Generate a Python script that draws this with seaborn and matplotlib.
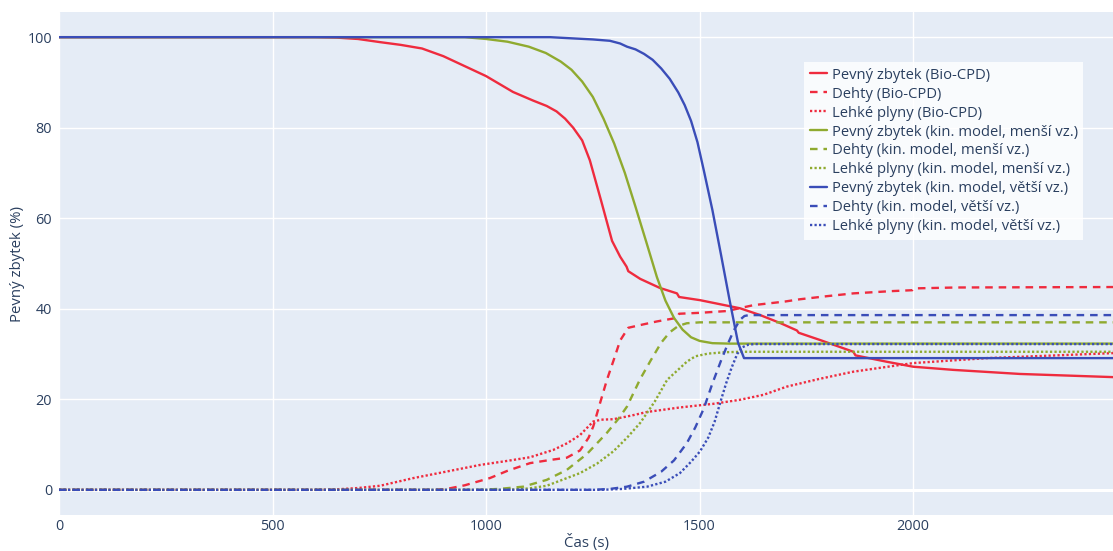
import matplotlib
matplotlib.use("Agg")
import matplotlib.pyplot as plt
import seaborn as sns
import pandas as pd

# ---- data ----
red_solid_t = [0, 600, 650, 700, 752, 800, 850, 900, 950, 1000, 1063, 1110, 1142, 1165, 1185, 1204, 1225,
               1243, 1269, 1295, 1314, 1329, 1333, 1361, 1407, 1447, 1452, 1501, 1548, 1595, 1642, 1690,
               1728, 1732, 1782, 1860, 1865, 1938, 2000, 2094, 2250, 2468]
red_solid_v = [100, 100, 99.9, 99.6, 98.9, 98.3, 97.5, 95.8, 93.6, 91.4, 87.9, 86.0, 84.8, 83.6, 82.0, 80.0, 77.2,
               72.8, 64.0, 55.0, 51.5, 49.3, 48.3, 46.6, 44.6, 43.4, 42.6, 41.9, 41.0, 40.1, 38.6, 36.8,
               35.2, 34.7, 33.1, 30.5, 29.7, 28.3, 27.2, 26.5, 25.6, 24.9]

red_dash_t = [0, 880, 908, 950, 1009, 1050, 1103, 1150, 1189, 1220, 1240, 1251, 1267, 1283, 1300, 1314, 1333,
              1361, 1400, 1447, 1452, 1500, 1564, 1626, 1700, 1735, 1800, 1860, 1950, 1998, 2002, 2100, 2468]
red_dash_v = [0, 0, 0.2, 1.0, 2.6, 4.2, 5.9, 6.6, 7.1, 8.7, 11.5, 14.0, 19.2, 24.3, 29.0, 33.0, 35.8,
              36.4, 37.2, 38.0, 38.9, 39.1, 39.5, 40.8, 41.6, 42.1, 42.8, 43.4, 43.9, 44.1, 44.5, 44.7, 44.8]

red_dot_t = [0, 600, 650, 700, 752, 830, 900, 986, 1050, 1103, 1157, 1190, 1220, 1251, 1270, 1298, 1340,
             1377, 1454, 1532, 1595, 1650, 1704, 1780, 1860, 2000, 2173, 2468]
red_dot_v = [0, 0, 0.1, 0.4, 0.9, 2.6, 3.9, 5.5, 6.4, 7.2, 8.8, 10.3, 12.1, 15.1, 15.5, 15.6, 16.4,
             17.2, 18.2, 19.0, 19.9, 21.0, 22.8, 24.5, 26.1, 28.0, 29.1, 30.2]

green_solid_t = [0, 950, 1000, 1050, 1100, 1140, 1175, 1200, 1225, 1250, 1275, 1300, 1325, 1350, 1375, 1400,
                 1420, 1440, 1460, 1480, 1500, 1530, 1570, 2468]
green_solid_v = [100, 100, 99.6, 99.0, 97.9, 96.5, 94.6, 92.8, 90.2, 86.8, 82.0, 76.5, 70.0, 62.5, 54.8, 47.0,
                 41.8, 38.0, 35.4, 33.7, 32.9, 32.4, 32.3, 32.3]

green_dash_t = [0, 980, 1030, 1087, 1142, 1189, 1236, 1283, 1310, 1330, 1361, 1385, 1410, 1430, 1450, 1470,
                1500, 2468]
green_dash_v = [0, 0, 0.2, 0.7, 2.2, 4.4, 7.9, 12.6, 15.7, 18.4, 24.5, 28.5, 32.5, 34.8, 36.2, 36.8,
                37.0, 37.0]

green_dot_t = [0, 1050, 1100, 1142, 1220, 1260, 1298, 1330, 1361, 1395, 1424, 1454, 1470, 1490, 1520, 1560,
               1600, 2468]
green_dot_v = [0, 0, 0.3, 0.9, 3.7, 5.8, 8.5, 11.5, 14.8, 19.5, 24.3, 26.9, 28.3, 29.5, 30.1, 30.4,
               30.5, 30.5]

blue_solid_t = [0, 1150, 1189, 1250, 1290, 1314, 1330, 1350, 1370, 1390, 1410, 1430, 1450, 1465, 1480, 1495,
                1510, 1530, 1550, 1570, 1590, 1604, 2468]
blue_solid_v = [100, 100, 99.8, 99.5, 99.2, 98.6, 97.9, 97.3, 96.3, 95.0, 93.1, 90.8, 87.8, 85.0, 81.5, 76.8,
                70.5, 61.8, 52.0, 42.0, 32.5, 29.1, 29.1]

blue_dash_t = [0, 1250, 1290, 1330, 1370, 1410, 1440, 1470, 1490, 1510, 1530, 1550, 1565, 1580, 1595, 1605,
               1615, 2468]
blue_dash_v = [0, 0, 0.2, 0.7, 1.8, 4.0, 6.5, 10.3, 13.8, 18.0, 23.5, 28.5, 32.0, 35.2, 37.6, 38.4,
               38.6, 38.6]

blue_dot_t = [0, 1270, 1320, 1377, 1420, 1454, 1480, 1501, 1520, 1535, 1550, 1562, 1575, 1588, 1600, 1615,
              1630, 2468]
blue_dot_v = [0, 0, 0.2, 0.7, 1.8, 3.7, 6.2, 8.5, 11.5, 15.0, 19.8, 23.5, 27.0, 30.0, 31.5, 32.1,
              32.2, 32.2]

labels = ["Pevný zbytek (Bio-CPD)", "Dehty (Bio-CPD)", "Lehké plyny (Bio-CPD)",
          "Pevný zbytek (kin. model, menší vz.)", "Dehty (kin. model, menší vz.)",
          "Lehké plyny (kin. model, menší vz.)",
          "Pevný zbytek (kin. model, větší vz.)", "Dehty (kin. model, větší vz.)",
          "Lehké plyny (kin. model, větší vz.)"]

x_ticks = [0, 500, 1000, 1500, 2000]
y_ticks = [0, 20, 40, 60, 80, 100]

# ---- style ----
RED, GREEN, BLUE = "#EF2B3E", "#8FAA2F", "#3A4DB8"
TXT = "#2a3f5f"
sns.set_theme(style="darkgrid", rc={"axes.facecolor": "#E5ECF6", "grid.color": "white",
                                    "grid.linewidth": 1.0, "axes.edgecolor": "none"})
plt.rcParams["font.family"] = ["Open Sans", "DejaVu Sans"]

fig = plt.figure(figsize=(11.13, 5.51), dpi=100)
ax = fig.add_axes([59 / 1113, 1 - 515 / 551, 1 - 59 / 1113, (515 - 12) / 551])

LW = 1.7
solid = "-"
dash = (0, (3.2, 2.5))
dot = (0, (0.95, 0.95))

series = [
    (red_solid_t, red_solid_v, RED, solid),
    (red_dash_t, red_dash_v, RED, dash),
    (red_dot_t, red_dot_v, RED, dot),
    (green_solid_t, green_solid_v, GREEN, solid),
    (green_dash_t, green_dash_v, GREEN, dash),
    (green_dot_t, green_dot_v, GREEN, dot),
    (blue_solid_t, blue_solid_v, BLUE, solid),
    (blue_dash_t, blue_dash_v, BLUE, dash),
    (blue_dot_t, blue_dot_v, BLUE, dot),
]

ax.axhline(0, color="white", lw=2.2, zorder=1)
for (t, v, c, ls), lab in zip(series, labels):
    df = pd.DataFrame({"t": t, "v": v})
    sns.lineplot(data=df, x="t", y="v", ax=ax, color=c, linestyle=ls, linewidth=LW,
                 label=lab, estimator=None, sort=False, zorder=3)

ax.set_xlim(0, 2468)
ax.set_ylim(-5.56, 105.56)
ax.set_xticks(x_ticks)
ax.set_yticks(y_ticks)
ax.tick_params(axis="both", length=0, labelsize=10.4, colors=TXT)
ax.tick_params(axis="x", pad=3)
ax.tick_params(axis="y", pad=5)
ax.set_xlabel("Čas (s)", fontsize=10.8, color=TXT, labelpad=0)
ax.set_ylabel("Pevný zbytek (%)", fontsize=10.8, color=TXT, labelpad=1.5)
for s in ax.spines.values():
    s.set_visible(False)

leg = ax.legend(loc="upper left", bbox_to_anchor=((804 - 59) / 1054, (515 - 62) / 503),
                borderaxespad=0, frameon=True, fancybox=False, fontsize=10.6,
                handlelength=1.2, handletextpad=0.3, labelspacing=0.27, borderpad=0.38)
leg.get_frame().set_facecolor((1, 1, 1, 0.6))
leg.get_frame().set_edgecolor("none")
for txt in leg.get_texts():
    txt.set_color(TXT)

fig.savefig("out.png", dpi=100)
